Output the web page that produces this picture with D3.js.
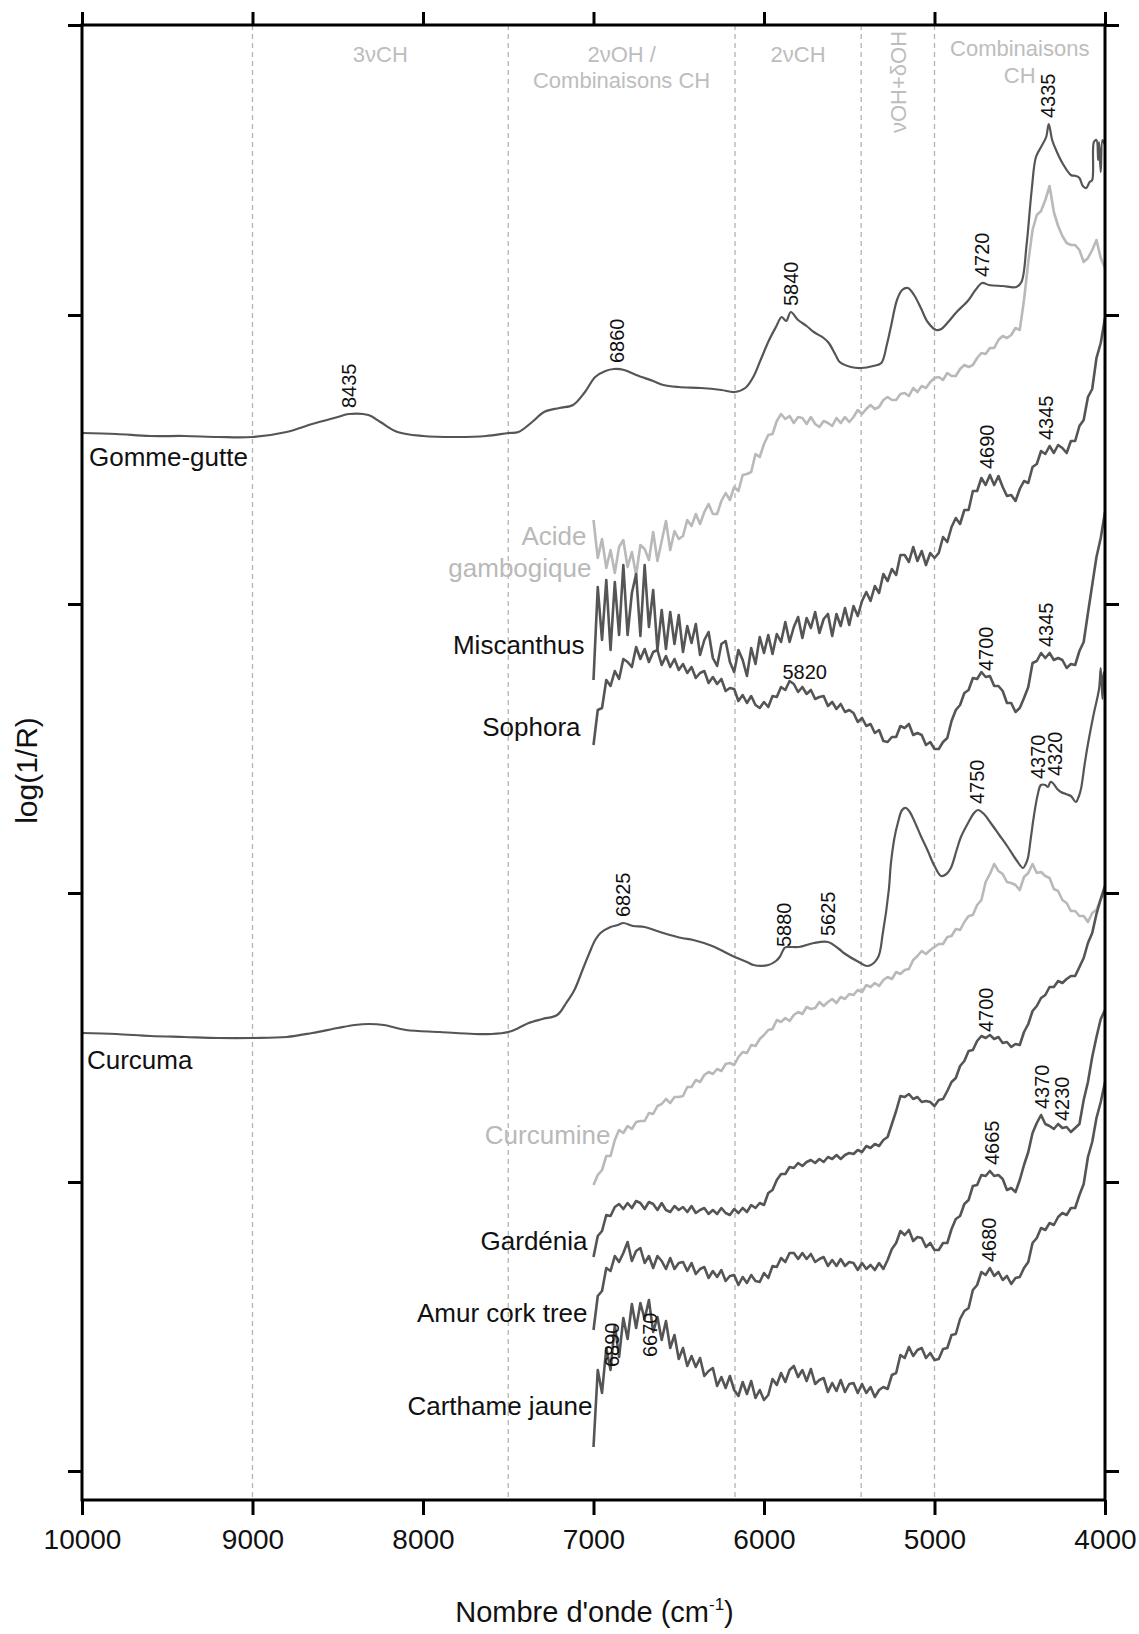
<!DOCTYPE html>
<html><head><meta charset="utf-8">
<script src="https://cdn.jsdelivr.net/npm/d3@7"></script>
<style>
body{margin:0;background:#fff}
svg{display:block}
text{font-family:"Liberation Sans",Arial,Helvetica,sans-serif}
</style>
</head><body>
<svg id="chart" width="1139" height="1634"></svg>
<script>
// ---------------- DATA ----------------
const xTicks = [10000, 9000, 8000, 7000, 6000, 5000, 4000];
const yTicks = [29, 318, 607, 896, 1185, 1475];           // unlabeled log(1/R) ticks (arbitrary units)
const bandEdges = [9000, 7500, 6170, 5430, 5000];
const bandLabels = [
  {lines: ["3\u03BDCH"], from: 9000, to: 7500},
  {lines: ["2\u03BDOH /", "Combinaisons CH"], from: 7500, to: 6170},
  {lines: ["2\u03BDCH"], from: 6170, to: 5430},
  {lines: ["\u03BDOH+\u03B4OH"], from: 5430, to: 5000, vertical: true},
  {lines: ["Combinaisons", "CH"], from: 5000, to: 4000}
];

// wavenumber grid of the 7000-4000 cm-1 spectra (25 cm-1 step)
const gridWn = d3.range(7000, 3999, -25);

// Gomme-gutte (10000-4000)
const gommeWn = [10000,9800,9600,9400,9200,9000,8800,8650,8500,8435,8320,8250,8150,8000,7800,7630,7500,7440,7360,7290,7200,7120,7050,6990,6930,6880,6820,6750,6650,6590,6500,6370,6250,6172,6110,6060,6020,5970,5930,5896,5870,5843,5800,5750,5708,5650,5620,5580,5556,5490,5430,5360,5312,5280,5256,5220,5190,5156,5120,5080,5040,4990,4960,4920,4870,4800,4760,4720,4680,4600,4520,4490,4460,4430,4405,4375,4345,4330,4310,4287,4250,4200,4170,4150,4130,4110,4090,4075,4065,4050,4040,4035,4025,4015,4005,4000];
const gommeVal = [1067,1066,1064,1064,1063,1063,1068,1076,1083,1086,1085,1078,1068,1064,1063,1064,1067,1068,1078,1088,1092,1095,1108,1123,1129,1131,1130,1125,1119,1115,1113,1112,1110,1108,1112,1124,1140,1160,1173,1183,1179,1188,1180,1174,1168,1162,1157,1145,1138,1133,1132,1134,1137,1155,1173,1200,1210,1212,1205,1192,1178,1170,1171,1178,1188,1200,1210,1217,1215,1214,1213,1218,1255,1310,1343,1353,1363,1376,1360,1350,1337,1325,1324,1322,1314,1312,1318,1320,1358,1360,1340,1358,1328,1360,1357,1355];

// Curcuma (10000-4000)
const curcumaWn = [10000,9800,9600,9400,9200,9000,8800,8650,8500,8400,8320,8230,8100,7900,7700,7600,7500,7440,7380,7300,7213,7160,7112,7060,7024,6990,6959,6900,6856,6825,6768,6700,6591,6483,6415,6304,6172,6100,6062,5974,5930,5908,5880,5867,5796,5708,5625,5560,5532,5444,5391,5333,5303,5268,5256,5235,5215,5190,5168,5145,5121,5080,5039,5000,4961,4930,4904,4870,4845,4800,4768,4745,4710,4670,4620,4570,4520,4481,4465,4452,4435,4417,4395,4376,4350,4335,4320,4306,4280,4259,4230,4200,4171,4155,4141,4120,4100,4065,4035,4025,4015,4008,4000];
const curcumaVal = [467,466,464,463,462,462,463,467,472,475,476,475,470,468,466,466,468,472,477,481,485,497,510,532,547,560,567,573,575,577,574,573,567,562,560,554,543,538,535,535,539,543,552,553,553,557,558,551,547,538,534,542,567,610,636,662,677,690,692,688,680,664,649,634,624,626,632,650,663,678,687,690,686,677,665,653,640,632,636,642,662,684,705,715,715,713,718,717,711,708,706,704,698,703,711,735,756,787,811,832,801,828,810];

// 7000-4000 spectra on gridWn
const acideVal = [980,942,961,932,950,927,953,960,933,948,925,955,951,940,968,939,959,979,950,969,961,
 964,980,974,986,976,988,996,986,986,999,1007,1000,1013,1009,1025,1026,1028,1046,1043,1056,
 1065,1066,1079,1086,1081,1084,1077,1083,1082,1076,1083,1076,1073,1079,1077,1074,1082,1077,1083,1078,
 1083,1090,1086,1091,1095,1091,1093,1100,1103,1100,1100,1106,1107,1104,1112,1108,1114,1112,1118,1122,
 1123,1120,1127,1124,1124,1131,1135,1133,1135,1142,1147,1146,1152,1152,1160,1164,1162,1165,1172,1170,
 1200,1238,1270,1285,1289,1300,1314,1288,1274,1264,1257,1255,1255,1250,1238,1242,1250,1260,1242,1232];

const miscanthusVal = [820,913,860,920,850,918,865,935,865,907,926,864,935,873,910,850,890,851,888,856,885,
 848,874,857,876,845,860,868,842,834,856,859,838,828,850,840,824,852,836,863,847,
 865,846,866,858,878,858,873,883,862,882,872,888,867,881,886,864,886,874,892,875,
 894,884,899,908,899,914,907,926,919,931,925,945,945,938,953,939,949,935,947,942,
 947,963,958,973,982,976,990,990,1009,1009,1022,1015,1025,1015,1024,1013,1004,1005,999,1011,
 1019,1017,1033,1036,1049,1046,1054,1047,1055,1052,1047,1059,1059,1074,1080,1103,1111,1142,1157,1182];

const sophoraVal = [755,790,792,820,814,829,821,841,838,833,853,841,851,838,848,850,835,844,833,841,830,
 836,827,833,822,827,829,817,823,816,821,809,812,811,799,805,797,804,795,792,798,
 793,804,803,813,810,819,816,808,813,806,810,801,803,804,794,798,791,796,788,790,
 787,778,782,774,776,767,770,759,758,763,763,774,772,776,765,767,765,755,758,751,
 751,758,762,779,790,795,807,810,822,821,828,823,824,814,814,809,797,797,788,792,
 802,813,837,839,847,842,847,840,842,840,832,836,835,849,858,887,915,943,962,988];

const curcumineVal = [315,325,330,344,344,360,370,367,374,371,378,379,379,387,386,394,396,401,397,403,403,
 404,413,413,420,418,425,428,426,431,429,436,437,435,443,448,447,455,454,461,465,
 470,471,480,478,482,479,485,488,486,493,491,492,498,494,498,501,497,503,501,506,
 505,510,508,515,513,517,514,520,523,521,528,526,530,531,540,544,549,546,550,553,
 556,556,563,564,571,570,578,584,585,595,600,618,626,636,629,626,618,617,615,610,
 623,627,636,627,628,624,622,611,609,600,597,589,589,584,584,578,587,590,601,608];

const gardeniaVal = [243,264,269,285,284,293,296,291,297,292,299,297,291,298,296,290,297,290,288,294,290,
 293,288,294,287,290,292,286,290,286,292,287,285,291,287,292,288,295,292,297,295,
 307,310,320,326,326,333,332,337,334,338,340,337,341,338,343,341,345,341,345,347,
 346,350,348,354,352,356,354,360,363,376,389,404,403,406,401,403,398,399,398,394,
 400,401,409,418,422,434,439,449,450,459,464,462,465,461,463,457,458,453,456,455,
 468,476,489,494,502,505,513,513,519,517,521,524,524,533,542,557,567,586,601,614];

const amurVal = [170,204,209,232,229,244,238,247,258,239,249,252,237,244,232,244,239,231,242,231,237,
 238,229,237,226,231,233,222,229,223,230,219,224,225,215,223,217,225,219,218,227,
 222,234,233,242,238,247,247,241,247,241,246,238,241,243,234,240,234,241,234,238,
 237,230,237,231,235,230,237,231,240,251,257,269,265,270,259,263,262,253,257,250,
 250,257,257,271,281,284,296,300,314,315,325,324,329,324,325,321,310,312,308,320,
 335,348,367,377,385,376,374,371,376,372,373,368,372,376,400,418,443,463,481,490];

const carthameVal = [53,130,107,152,130,175,143,182,161,196,172,197,181,200,168,183,160,179,152,165,141,
 152,134,144,133,142,124,129,132,114,123,112,124,110,104,118,106,119,102,110,100,
 105,121,115,127,118,130,134,123,130,119,131,116,120,122,108,117,109,120,108,116,
 117,107,116,107,113,103,110,113,111,125,127,145,142,153,144,150,152,142,147,140,
 141,151,152,165,166,181,189,192,210,215,228,225,232,224,228,220,224,216,222,223,
 232,238,257,262,272,270,277,275,283,287,285,292,292,305,316,343,358,382,398,418];

// peak annotations (cm-1)
const gommePeaks = [8435, 6860, 5840, 4720, 4335];
const miscanthusPeaks = [4690, 4345];
const sophoraPeaks = [4700, 4345];
const sophoraFlatPeaks = [5820];
const curcumaPeaks = [6825, 5880, 5625, 4750, 4370, 4320];
const gardeniaPeaks = [4700];
const amurPeaks = [4665, 4370, 4230];
const carthamePeaks = [6890, 6670, 4680];

// ---------------- CHART ----------------
const DARK = "#555555", LIGHT = "#b9b9b9", REGION = "#bdbdbd", INK = "#111";
const svg = d3.select("#chart");
const x = d3.scaleLinear().domain([10000, 4000]).range([82, 1105]);
const y = d3.scaleLinear().domain([0, 1475]).range([1500, 25]);
const [xL, xR] = x.range(), [yB, yT] = y.range();

const pairs = (wn, v) => wn.map((w, i) => [w, v[i]]);
const gridPairs = v => pairs(gridWn, v);

const series = [
  {name: "Acide gambogique", data: gridPairs(acideVal), color: LIGHT, peaks: []},
  {name: "Curcumine", data: gridPairs(curcumineVal), color: LIGHT, peaks: []},
  {name: "Gomme-gutte", data: pairs(gommeWn, gommeVal), color: DARK, smooth: true, peaks: gommePeaks},
  {name: "Curcuma", data: pairs(curcumaWn, curcumaVal), color: DARK, smooth: true, peaks: curcumaPeaks},
  {name: "Miscanthus", data: gridPairs(miscanthusVal), color: DARK, peaks: miscanthusPeaks},
  {name: "Sophora", data: gridPairs(sophoraVal), color: DARK, peaks: sophoraPeaks, flat: sophoraFlatPeaks},
  {name: "Gardénia", data: gridPairs(gardeniaVal), color: DARK, peaks: gardeniaPeaks},
  {name: "Amur cork tree", data: gridPairs(amurVal), color: DARK, peaks: amurPeaks},
  {name: "Carthame jaune", data: gridPairs(carthameVal), color: DARK, peaks: carthamePeaks}
];

// dashed band separators
svg.append("g").selectAll("line").data(bandEdges).join("line")
  .attr("x1", d => x(d)).attr("x2", d => x(d))
  .attr("y1", yT).attr("y2", yB)
  .attr("stroke", "#b3b3b3").attr("stroke-width", 1.3).attr("stroke-dasharray", "5,4");

// band labels
const bandLayout = [
  {rows: [62]}, {rows: [62, 88]}, {rows: [62]}, {center: 82}, {rows: [56, 83]}
];
bandLabels.forEach((b, i) => {
  const cx = x((b.from + b.to) / 2);
  const L = bandLayout[i];
  if (b.vertical) {
    svg.append("text")
      .attr("transform", `translate(${cx},${L.center}) rotate(-90)`)
      .attr("text-anchor", "middle").attr("dy", "0.35em")
      .style("font-size", "22px").attr("fill", REGION).text(b.lines[0]);
  } else {
    b.lines.forEach((t, j) => {
      svg.append("text").attr("x", cx).attr("y", L.rows[j])
        .attr("text-anchor", "middle").style("font-size", "22px")
        .attr("fill", REGION).text(t);
    });
  }
});

// spectra
const lineLin = d3.line().x(d => x(d[0])).y(d => y(d[1]));
const lineSmooth = d3.line().x(d => x(d[0])).y(d => y(d[1])).curve(d3.curveCatmullRom.alpha(0.5));
svg.append("g").selectAll("path").data(series).join("path")
  .attr("d", s => (s.smooth ? lineSmooth : lineLin)(s.data))
  .attr("fill", "none").attr("stroke", s => s.color)
  .attr("stroke-width", s => s.smooth ? 2.2 : 2.6).attr("stroke-linejoin", "round");

// local max near a wavenumber (for label anchoring)
function localMax(data, wn, win) {
  let best = -Infinity;
  for (let i = 0; i < data.length - 1; i++) {
    const a = data[i], b = data[i + 1];
    if (wn <= a[0] && wn >= b[0]) {
      const t = (a[0] - wn) / (a[0] - b[0]);
      best = Math.max(best, a[1] + t * (b[1] - a[1]));
    }
    if (Math.abs(a[0] - wn) <= win) best = Math.max(best, a[1]);
  }
  return best;
}

// peak labels (vertical)
const labelNudge = {"Curcuma-4370": [-4, 0], "Curcuma-4320": [5, 0], "Curcuma-5880": [0, 6],
  "Carthame jaune-6890": [0, 48], "Carthame jaune-6670": [0, 63], "Amur cork tree-4230": [-4, 0]};
series.forEach(s => {
  s.peaks.forEach(p => {
    const n = labelNudge[s.name + "-" + p] || [0, 0];
    const px = x(p) + n[0];
    const py = y(localMax(s.data, p, 20)) - 6 + n[1];
    svg.append("text")
      .attr("transform", `translate(${px},${py}) rotate(-90)`)
      .attr("dy", "0.35em").attr("text-anchor", "start")
      .style("font-size", "20px").attr("fill", INK).text(p);
  });
  (s.flat || []).forEach(p => {
    svg.append("text")
      .attr("x", x(p) + 10).attr("y", y(localMax(s.data, p, 20)) - 5)
      .attr("text-anchor", "middle").style("font-size", "20px").attr("fill", INK).text(p);
  });
});

// series names (anchored in data coordinates)
const nameLayout = [
  {text: "Gomme-gutte", wn: 9959, v: 1034, anchor: "start", color: INK},
  {text: "Acide", wn: 7041, v: 955, anchor: "end", color: LIGHT},
  {text: "gambogique", wn: 7012, v: 923, anchor: "end", color: LIGHT},
  {text: "Miscanthus", wn: 7053, v: 846, anchor: "end", color: INK},
  {text: "Sophora", wn: 7076, v: 764, anchor: "end", color: INK},
  {text: "Curcuma", wn: 9971, v: 431, anchor: "start", color: INK},
  {text: "Curcumine", wn: 6900, v: 356, anchor: "end", color: LIGHT},
  {text: "Gardénia", wn: 7035, v: 250, anchor: "end", color: INK},
  {text: "Amur cork tree", wn: 7035, v: 178, anchor: "end", color: INK},
  {text: "Carthame jaune", wn: 7006, v: 85, anchor: "end", color: INK}
];
svg.append("g").selectAll("text").data(nameLayout).join("text")
  .attr("x", d => x(d.wn)).attr("y", d => y(d.v))
  .attr("text-anchor", d => d.anchor).attr("fill", d => d.color)
  .style("font-size", "26px").text(d => d.text);

// axes
const styleAxis = g => {
  g.select(".domain").remove();
  g.selectAll(".tick line").attr("stroke", "#000").attr("stroke-width", 3);
  g.selectAll(".tick text").attr("fill", INK).style("font-size", "28px")
    .style("font-family", '"Liberation Sans",Arial,sans-serif');
};
svg.append("g").attr("transform", `translate(0,${yB})`)
  .call(d3.axisBottom(x).tickValues(xTicks).tickSize(15).tickPadding(14).tickFormat(d3.format("d")))
  .call(styleAxis);
svg.append("g").attr("transform", `translate(0,${yT})`)
  .call(d3.axisTop(x).tickValues(xTicks).tickSize(13).tickFormat(""))
  .call(styleAxis);
svg.append("g").attr("transform", `translate(${xL},0)`)
  .call(d3.axisLeft(y).tickValues(yTicks).tickSize(14).tickFormat(""))
  .call(styleAxis);
svg.append("g").attr("transform", `translate(${xR},0)`)
  .call(d3.axisRight(y).tickValues(yTicks).tickSize(14).tickFormat(""))
  .call(styleAxis);
svg.append("rect").attr("x", xL).attr("y", yT).attr("width", xR - xL).attr("height", yB - yT)
  .attr("fill", "none").attr("stroke", "#000").attr("stroke-width", 3);

// axis titles
const xt = svg.append("text").attr("x", (xL + xR) / 2 + 1).attr("y", 1622)
  .attr("text-anchor", "middle").style("font-size", "29px").attr("fill", INK);
xt.append("tspan").text("Nombre d'onde (cm");
xt.append("tspan").attr("dy", -12).style("font-size", "17px").text("-1");
xt.append("tspan").attr("dy", 12).text(")");
svg.append("text").attr("transform", `translate(37,${(yT + yB) / 2 + 8}) rotate(-90)`)
  .attr("text-anchor", "middle").style("font-size", "30px").attr("fill", INK).text("log(1/R)");
</script>
</body></html>
